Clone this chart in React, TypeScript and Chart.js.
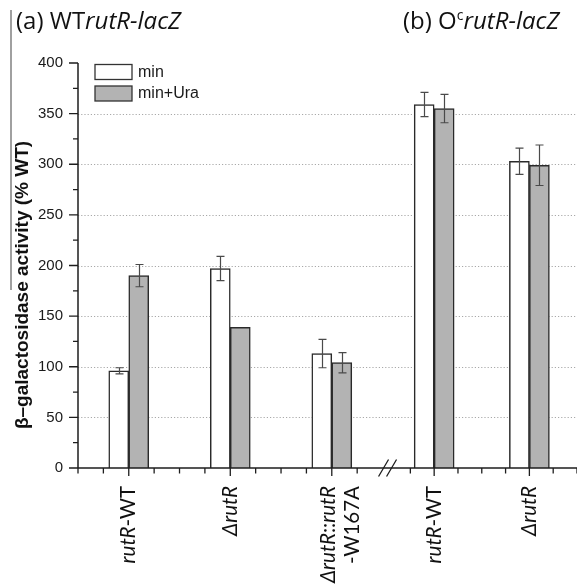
import React, { useEffect, useRef } from 'react';
import { Chart, registerables, LinearScale } from 'chart.js';

Chart.register(...registerables);

// ---------- data ----------
const categories = ['*rutR*-WT', '*ΔrutR*', '*ΔrutR*::*rutR*\n-W167A', '*rutR*-WT', '*ΔrutR*'];
const positions = [1, 2, 3, 4, 5];
const minValues = [96, 197, 113, 359, 303];
const minErrors = [3, 12, 14, 12, 13];
const uraValues = [190, 139, 104, 355, 299];
const uraErrors = [11, 0, 10, 14, 20];
const seriesLabels = ['min', 'min+Ura'];
const panelTitles = ['(a) WT*rutR-lacZ*', '(b) O^c^*rutR-lacZ*'];
const yAxisTitle = 'β–galactosidase activity (% WT)';
const Y_MIN = 0;
const Y_MAX = 400;
const Y_STEP = 50;
const X_MIN = 0.5;
const X_MAX = 5.5;

// axis break (between panel a and panel b)
const BREAK_AT = 3.5;
const BREAK_GAP = 4;
const BREAK_RATIO = 0.938;

class BrokenLinearScale extends LinearScale {
  static id = 'brokenLinear';
  static defaults = LinearScale.defaults;
  _k() {
    const len = (this as any)._length;
    return (len - BREAK_GAP) / ((BREAK_AT - this.min) + (this.max - BREAK_AT) * BREAK_RATIO);
  }
  getPixelForValue(value: any) {
    if (value === null || value === undefined || isNaN(value)) return NaN;
    const k = this._k();
    const off = value <= BREAK_AT
      ? (value - this.min) * k
      : (BREAK_AT - this.min) * k + BREAK_GAP + (value - BREAK_AT) * k * BREAK_RATIO;
    return (this as any)._startPixel + off;
  }
  getValueForPixel(pixel: number) {
    const k = this._k();
    const off = pixel - (this as any)._startPixel;
    const a = (BREAK_AT - this.min) * k;
    if (off <= a) return this.min + off / k;
    return BREAK_AT + (off - a - BREAK_GAP) / (k * BREAK_RATIO);
  }
}
Chart.register(BrokenLinearScale as any);

// ---------- rich text helpers ----------
type Seg = { text: string; italic: boolean; sup: boolean };
function parseLine(line: string): Seg[] {
  const segs: Seg[] = [];
  let italic = false, sup = false, buf = '';
  for (const ch of line) {
    if (ch === '*' || ch === '^') {
      if (buf) segs.push({ text: buf, italic, sup });
      buf = '';
      if (ch === '*') italic = !italic; else sup = !sup;
    } else buf += ch;
  }
  if (buf) segs.push({ text: buf, italic, sup });
  return segs;
}
function segFont(s: Seg, size: number, family: string, weight = 'normal') {
  return `${s.italic ? 'italic ' : ''}${weight} ${s.sup ? Math.round(size * 0.6) : size}px ${family}`;
}
function measureRich(ctx: CanvasRenderingContext2D, segs: Seg[], size: number, family: string, weight = 'normal') {
  let w = 0;
  for (const s of segs) { ctx.font = segFont(s, size, family, weight); w += ctx.measureText(s.text).width; }
  return w;
}
function drawRich(ctx: CanvasRenderingContext2D, segs: Seg[], x: number, y: number, size: number, family: string, weight = 'normal') {
  let cx = x;
  for (const s of segs) {
    ctx.font = segFont(s, size, family, weight);
    ctx.fillText(s.text, cx, s.sup ? y - size * 0.38 : y);
    cx += ctx.measureText(s.text).width;
  }
}

const LABEL_FONT = 'Lato, "Open Sans", sans-serif';
const TITLE_FONT = '"Open Sans", Lato, sans-serif';
const NUM_FONT = '"Liberation Sans", Arial, sans-serif';

const decorPlugin = {
  id: 'decor',
  beforeDatasetsDraw(chart: any) {
    const { ctx, chartArea, scales } = chart;
    const y = scales.y;
    ctx.save();
    ctx.strokeStyle = '#a9a9a9';
    ctx.lineWidth = 1;
    ctx.setLineDash([1.2, 2]);
    for (const t of y.ticks) {
      if (t.value <= Y_MIN || t.value >= Y_MAX) continue;
      const py = Math.round(y.getPixelForValue(t.value)) + 0.5;
      ctx.beginPath();
      ctx.moveTo(chartArea.left, py);
      ctx.lineTo(chartArea.right, py);
      ctx.stroke();
    }
    ctx.restore();
  },
  afterDatasetsDraw(chart: any) {
    const { ctx, chartArea, scales } = chart;
    const x = scales.x, y = scales.y;
    const L = chartArea.left, B = chartArea.bottom, T = chartArea.top, R = chartArea.right;
    ctx.save();

    // error bars
    ctx.strokeStyle = '#4a4a4a';
    ctx.lineWidth = 1.2;
    chart.data.datasets.forEach((ds: any, di: number) => {
      const meta = chart.getDatasetMeta(di);
      meta.data.forEach((el: any, j: number) => {
        const e = ds.errors[j];
        if (!e) return;
        const v = ds.data[j].y;
        const top = y.getPixelForValue(v + e);
        const bot = y.getPixelForValue(v - e);
        const cx = Math.round(el.x) + 0.5;
        ctx.beginPath();
        ctx.moveTo(cx, top); ctx.lineTo(cx, bot);
        ctx.moveTo(cx - 4, top); ctx.lineTo(cx + 4, top);
        ctx.moveTo(cx - 4, bot); ctx.lineTo(cx + 4, bot);
        ctx.stroke();
      });
    });

    // axes lines
    ctx.strokeStyle = '#1e1e1e';
    ctx.lineWidth = 1.5;
    ctx.beginPath();
    ctx.moveTo(L, T); ctx.lineTo(L, B);
    ctx.moveTo(L, B); ctx.lineTo(R, B);
    ctx.stroke();

    // y ticks (major at library ticks, minor halfway)
    ctx.lineWidth = 1.3;
    const yt = y.ticks.map((t: any) => t.value);
    ctx.beginPath();
    yt.forEach((v: number, i: number) => {
      const py = y.getPixelForValue(v);
      ctx.moveTo(L - 9, py); ctx.lineTo(L, py);
      if (i < yt.length - 1) {
        const pm = y.getPixelForValue((v + yt[i + 1]) / 2);
        ctx.moveTo(L - 5, pm); ctx.lineTo(L, pm);
      }
    });
    ctx.stroke();

    // x ticks: major at categories, minor each quarter, skipping the break
    ctx.beginPath();
    for (let q = X_MIN * 4; q <= X_MAX * 4; q++) {
      const v = q / 4;
      if (Math.abs(v - BREAK_AT) < 0.01) continue;
      const px = x.getPixelForValue(v);
      const major = Number.isInteger(v);
      ctx.moveTo(px, B); ctx.lineTo(px, B + (major ? 8 : 5.5));
    }
    ctx.stroke();

    // break marks
    const bp = (x.getPixelForValue(BREAK_AT - 0.001) + x.getPixelForValue(BREAK_AT + 0.001)) / 2 + 3;
    ctx.lineWidth = 1.3;
    ctx.beginPath();
    [-4, 4].forEach((d) => {
      ctx.moveTo(bp + d - 5, B + 8.5); ctx.lineTo(bp + d + 5, B - 8.5);
    });
    ctx.stroke();

    // legend
    ctx.setLineDash([]);
    chart.data.datasets.forEach((ds: any, di: number) => {
      const bx = L + 17, by = T + 1.5 + di * 21.5;
      ctx.fillStyle = ds.backgroundColor;
      ctx.fillRect(bx, by, 37, 15);
      ctx.strokeStyle = '#333';
      ctx.lineWidth = 1.3;
      ctx.strokeRect(bx, by, 37, 15);
      ctx.fillStyle = '#1a1a1a';
      ctx.font = `16px ${NUM_FONT}`;
      ctx.textBaseline = 'middle';
      ctx.textAlign = 'left';
      ctx.fillText(ds.label, bx + 43, by + 8);
    });

    // x tick labels (rotated, rich)
    ctx.fillStyle = '#111';
    ctx.textBaseline = 'middle';
    ctx.textAlign = 'left';
    const fs = 20.5;
    positions.forEach((p, i) => {
      const cx = x.getPixelForValue(p);
      const lines = categories[i].split('\n');
      lines.forEach((ln, k) => {
        const segs = parseLine(ln);
        const w = measureRich(ctx, segs, fs, LABEL_FONT);
        const lx = cx + k * 24 - (lines.length > 1 ? 3 : 0);
        ctx.save();
        ctx.translate(lx, 486);
        ctx.rotate(-Math.PI / 2);
        drawRich(ctx, segs, -w, 0, fs, LABEL_FONT);
        ctx.restore();
      });
    });

    // panel titles
    ctx.textBaseline = 'alphabetic';
    ctx.fillStyle = '#111';
    drawRich(ctx, parseLine(panelTitles[0]), 16, 29, 24, TITLE_FONT, '500');
    drawRich(ctx, parseLine(panelTitles[1]), 403, 29, 24, TITLE_FONT, '500');

    // y axis title
    ctx.save();
    ctx.translate(23, 285);
    ctx.rotate(-Math.PI / 2);
    ctx.font = `bold 19px ${NUM_FONT}`;
    ctx.textAlign = 'center';
    ctx.textBaseline = 'middle';
    ctx.fillText(yAxisTitle, 0, 0);
    ctx.restore();

    // left frame line
    ctx.strokeStyle = '#808080';
    ctx.lineWidth = 1.5;
    ctx.beginPath();
    ctx.moveTo(11, 10); ctx.lineTo(11, 290);
    ctx.stroke();

    ctx.restore();
  },
};

export default function App() {
  const ref = useRef<HTMLCanvasElement>(null);
  useEffect(() => {
    if (!ref.current) return;
    const chart = new Chart(ref.current, {
      type: 'bar',
      data: {
        datasets: [
          {
            label: seriesLabels[0],
            data: positions.map((p, i) => ({ x: p, y: minValues[i] })),
            errors: minErrors,
            backgroundColor: '#ffffff',
            borderColor: '#2a2a2a',
            borderWidth: 1.5,
            barThickness: 20,
          } as any,
          {
            label: seriesLabels[1],
            data: positions.map((p, i) => ({ x: p, y: uraValues[i] })),
            errors: uraErrors,
            backgroundColor: '#b3b3b3',
            borderColor: '#2a2a2a',
            borderWidth: 1.5,
            barThickness: 20,
          } as any,
        ],
      },
      options: {
        animation: false,
        responsive: false,
        layout: { padding: { top: 63, left: 0, right: 0, bottom: 0 } },
        plugins: { legend: { display: false }, tooltip: { enabled: false } },
        scales: {
          x: {
            type: 'brokenLinear' as any,
            min: X_MIN,
            max: X_MAX,
            offset: false,
            grid: { display: false, drawTicks: false },
            border: { display: false },
            ticks: { display: false, stepSize: 1 },
            afterFit: (s: any) => { s.height = 117; },
          },
          y: {
            type: 'linear',
            min: Y_MIN,
            max: Y_MAX,
            grid: { display: false, drawTicks: false },
            border: { display: false },
            ticks: { stepSize: Y_STEP, padding: 15, color: '#1a1a1a', font: { family: NUM_FONT, size: 15 } },
            afterFit: (s: any) => { s.width = 78; },
          },
        },
      } as any,
      plugins: [decorPlugin],
    });
    return () => chart.destroy();
  }, []);
  return (
    <div style={{ position: 'fixed', left: 0, top: 0, width: 577, height: 585, background: '#fff' }}>
      <canvas ref={ref} width={577} height={585} />
    </div>
  );
}
